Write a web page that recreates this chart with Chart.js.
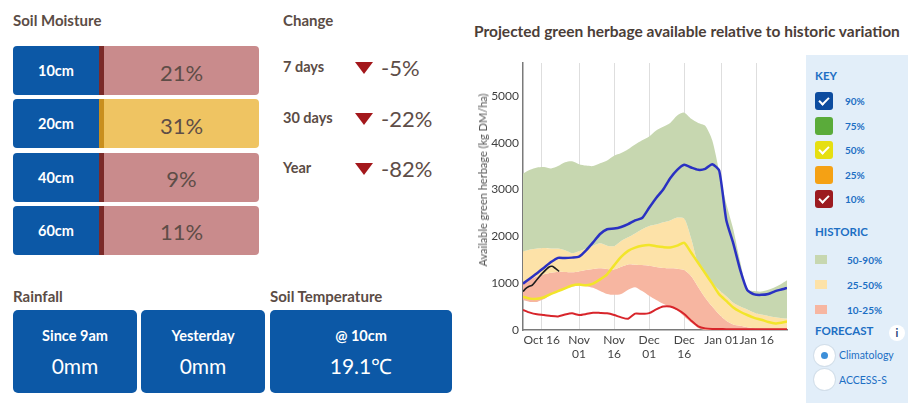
<!DOCTYPE html>
<html lang="en">
<head>
<meta charset="utf-8">
<title>Soil and pasture</title>
<script src="https://cdn.jsdelivr.net/npm/chart.js@4.4.1/dist/chart.umd.min.js"></script>
<style>
  html, body { margin: 0; padding: 0; background: #fff; }
  body { position: relative; width: 908px; height: 403px; overflow: hidden;
         font-family: Lato, "Open Sans", sans-serif; color: #5b4c45; }
  .t { position: absolute; white-space: nowrap; line-height: 20px; }
  .head { font-weight: 700; font-size: 15px; color: #5b4c45; }
  .row { position: absolute; left: 13px; width: 246px; height: 49px; border-radius: 4px;
         overflow: hidden; display: flex; }
  .row .depth { width: 86px; background: #0c58a6; color: #fff; font-weight: 700; font-size: 14.5px;
                display: flex; align-items: center; justify-content: center; }
  .row .edge { width: 5px; }
  .row .pct { flex: 1; display: flex; align-items: center; justify-content: center;
              font-size: 22px; color: #5e4d47; padding-top: 3px; }
  .chg { font-weight: 700; font-size: 14.5px; color: #5b4c45; }
  .tri { position: absolute; width: 0; height: 0; border-left: 9px solid transparent;
         border-right: 9px solid transparent; border-top: 12px solid #a3171b; }
  .chgval { font-size: 22px; color: #5e4d47; }
  .box { position: absolute; top: 310px; height: 83px; background: #0c58a6; border-radius: 5px;
         color: #fff; text-align: center; }
  .box .bt { position: absolute; left: 0; right: 0; top: 16px; font-weight: 700; font-size: 14.5px; line-height: 20px; }
  .box .bv { position: absolute; left: 0; right: 0; top: 43px; font-size: 21px; line-height: 26px; }
  #chartWrap { position: absolute; left: 470px; top: 50px; width: 330px; height: 330px; }
  #yTitle { position: absolute; left: 483px; top: 180px; transform: translate(-50%, -50%) rotate(-90deg);
            white-space: nowrap; font-size: 11px; color: #555; line-height: 14px; }
  #key { position: absolute; left: 806px; top: 55px; width: 102px; height: 348px; background: #e2eef9; }
  .kh { position: absolute; left: 9px; font-weight: 700; font-size: 11.5px; color: #1d6fc4; line-height: 14px; }
  .kl { position: absolute; font-weight: 700; font-size: 10px; color: #1d6fc4; line-height: 12px; }
  .cb { position: absolute; left: 9px; width: 18px; height: 18px; border-radius: 3px; }
  .cb.on::after { content: ''; position: absolute; left: 6px; top: 3px; width: 4px; height: 8px;
                  border-right: 2.5px solid #fff; border-bottom: 2.5px solid #fff; transform: rotate(45deg); }
  .sw { position: absolute; left: 9px; width: 12px; height: 9px; }
  .radio { position: absolute; left: 8px; width: 21px; height: 21px; border-radius: 50%; background: #fff;
           box-shadow: 0 0 0 1px #d3dfea; }
  .radio.on::after { content: ''; position: absolute; left: 7px; top: 7px; width: 7px; height: 7px;
                     border-radius: 50%; background: #3d8fd9; }
  .info { position: absolute; left: 83px; top: 270px; width: 16px; height: 16px; border-radius: 50%;
          background: #fff; color: #1b3f7a; font-weight: 700; font-size: 11px; line-height: 16px; text-align: center; }
</style>
</head>
<body>

<div class="t head" style="left:13px; top:10px;">Soil Moisture</div>
<div class="t head" style="left:283px; top:10px;">Change</div>
<div id="soilRows"></div>
<div id="changeRows"></div>

<div class="t head" style="left:13px; top:286px;">Rainfall</div>
<div class="t head" style="left:270px; top:286px;">Soil Temperature</div>
<div id="boxes"></div>

<div class="t" style="left:474px; top:21px; font-weight:700; font-size:15.5px; color:#4b3e38;">Projected green herbage available relative to historic variation</div>

<div id="chartWrap"><canvas id="herbage" width="330" height="330"></canvas></div>
<div id="yTitle">Available green herbage (kg DM/ha)</div>

<div id="key">
  <div class="kh" style="top:14px;">KEY</div>
  <div id="keyItems"></div>
  <div class="kh" style="top:170px;">HISTORIC</div>
  <div id="histItems"></div>
  <div class="kh" style="top:269px;">FORECAST</div>
  <div class="info">i</div>
  <div class="radio on" style="top:290px;"></div>
  <div class="kl" style="left:33px; top:294px; font-weight:400; font-size:10.5px;">Climatology</div>
  <div class="radio" style="top:314px;"></div>
  <div class="kl" style="left:33px; top:319px; font-weight:400; font-size:10.5px;">ACCESS-S</div>
</div>

<script>
// ---- soil panel ----
const soilDepths = ['10cm', '20cm', '40cm', '60cm'];
const soilPercent = [21, 31, 9, 11];
const soilBand = ['low', 'mid', 'low', 'low'];

const changePeriods = ['7 days', '30 days', 'Year'];
const changePercent = [-5, -22, -82];

const rainLabels = ['Since 9am', 'Yesterday'];
const rainMm = [0, 0];
const soilTempDepth = '@ 10cm';
const soilTempC = 19.1;

// ---- herbage chart ----
// x = days since 1 Oct
const days = [7, 10, 13, 16, 19, 22, 25, 28, 31, 34, 37, 40, 43, 46, 49, 52, 55, 58, 61, 64,
              67, 70, 73, 76, 79, 82, 85, 88, 91, 94, 97, 100, 103, 106, 109, 112, 115, 118, 120];

const hist90 = [3340, 3420, 3470, 3480, 3450, 3500, 3580, 3600, 3540, 3510, 3500, 3560, 3620, 3720, 3780,
                3860, 3960, 4050, 4130, 4260, 4340, 4420, 4580, 4640, 4510, 4420, 4360, 4050, 3380, 2700,
                2150, 1450, 870, 830, 820, 860, 920, 1000, 1060];
const hist50 = [1680, 1720, 1740, 1750, 1740, 1740, 1700, 1640, 1680, 1740, 1800, 1850, 1800, 1790, 1900,
                1980, 2060, 2150, 2220, 2250, 2300, 2340, 2400, 2380, 1950, 1400, 1180, 990, 850, 720,
                580, 500, 440, 370, 330, 300, 270, 250, 245];
const hist25 = [1030, 1080, 1140, 1190, 1220, 1245, 1240, 1232, 1250, 1280, 1300, 1317, 1300, 1290, 1350,
                1400, 1395, 1385, 1370, 1345, 1325, 1317, 1310, 1280, 1150, 920, 690, 500, 330, 200,
                120, 90, 60, 40, 30, 25, 20, 20, 20];
const hist10 = [640, 600, 600, 660, 760, 830, 890, 930, 947, 935, 900, 833, 770, 750, 770,
                860, 915, 830, 730, 640, 560, 490, 420, 290, 160, 45, 0, 0, 0, 0,
                0, 0, 0, 0, 0, 0, 0, 0, 0];

const fc90 = [990, 1100, 1210, 1330, 1450, 1540, 1535, 1545, 1566, 1700, 1870, 2050, 2150, 2165, 2200,
              2260, 2340, 2390, 2610, 2820, 3000, 3240, 3420, 3530, 3470, 3420, 3440, 3540, 3400, 2350,
              1850, 1280, 850, 760, 750, 770, 830, 870, 900];
const fc50 = [710, 670, 665, 700, 770, 830, 890, 950, 970, 955, 990, 1080, 1190, 1380, 1560,
              1690, 1760, 1800, 1815, 1790, 1770, 1760, 1800, 1860, 1650, 1430, 1210, 990, 760, 620,
              480, 390, 320, 260, 220, 170, 140, 160, 180];
const fc10 = [430, 370, 335, 320, 300, 290, 330, 355, 320, 340, 370, 365, 356, 320, 270,
              240, 350, 345, 360, 440, 500, 500, 440, 340, 200, 80, 35, 22, 20, 18,
              18, 18, 18, 18, 18, 18, 18, 18, 18];

const obsDays = [7, 8, 9.5, 11, 13, 15.5, 18, 19.5, 21, 22.5];
const observed = [820, 880, 930, 960, 1080, 1220, 1340, 1360, 1310, 1250];

const yTicks = [0, 1000, 2000, 3000, 4000, 5000];
const tickDays = [15, 31, 46, 61, 76, 92, 107];
const tickLabels = ['Oct 16', ['Nov', '01'], ['Nov', '16'], ['Dec', '01'], ['Dec', '16'], 'Jan 01', 'Jan 16'];

const keyLabels = ['90%', '75%', '50%', '25%', '10%'];
const keyChecked = [true, false, true, false, true];
const histLabels = ['50-90%', '25-50%', '10-25%'];

// ---------------------------------------------------------------
const BAND_FILL = { low: '#c98b8c', mid: '#efc462' };
const BAND_EDGE = { low: '#7b2a28', mid: '#c98f1e' };
const KEY_COLORS = ['#0d4c9f', '#5aab3a', '#e6df12', '#f5a114', '#9c1b20'];
const HIST_COLORS = ['#c7d7b0', '#fde2a8', '#f7b6a1'];

// soil moisture rows
const soilRows = document.getElementById('soilRows');
soilDepths.forEach((d, i) => {
  const row = document.createElement('div');
  row.className = 'row';
  row.style.top = (46 + i * 53.3) + 'px';
  row.innerHTML = '<div class="depth">' + d + '</div>' +
    '<div class="edge" style="background:' + BAND_EDGE[soilBand[i]] + '"></div>' +
    '<div class="pct" style="background:' + BAND_FILL[soilBand[i]] + '">' + soilPercent[i] + '%</div>';
  soilRows.appendChild(row);
});

// change column
const changeRows = document.getElementById('changeRows');
changePeriods.forEach((p, i) => {
  const cy = 68 + i * 50.5;
  changeRows.insertAdjacentHTML('beforeend',
    '<div class="t chg" style="left:283px; top:' + (cy - 11) + 'px;">' + p + '</div>' +
    '<div class="tri" style="left:355px; top:' + (cy - 6) + 'px;"></div>' +
    '<div class="t chgval" style="left:381px; top:' + (cy - 10) + 'px;">' + changePercent[i] + '%</div>');
});

// rainfall + soil temp boxes
const boxes = document.getElementById('boxes');
const boxDefs = [
  { left: 13, width: 124, title: rainLabels[0], value: rainMm[0] + 'mm' },
  { left: 141, width: 124, title: rainLabels[1], value: rainMm[1] + 'mm' },
  { left: 270, width: 182, title: soilTempDepth, value: soilTempC.toFixed(1) + '\u2103' }
];
boxDefs.forEach(b => {
  boxes.insertAdjacentHTML('beforeend',
    '<div class="box" style="left:' + b.left + 'px; width:' + b.width + 'px;">' +
    '<div class="bt">' + b.title + '</div><div class="bv">' + b.value + '</div></div>');
});

// key panel
const keyItems = document.getElementById('keyItems');
keyLabels.forEach((k, i) => {
  const top = 37 + i * 24.5;
  keyItems.insertAdjacentHTML('beforeend',
    '<div class="cb' + (keyChecked[i] ? ' on' : '') + '" style="top:' + top + 'px; background:' + KEY_COLORS[i] + '"></div>' +
    '<div class="kl" style="left:39px; top:' + (top + 3) + 'px;">' + k + '</div>');
});
const histItems = document.getElementById('histItems');
histLabels.forEach((h, i) => {
  const top = 200 + i * 25;
  histItems.insertAdjacentHTML('beforeend',
    '<div class="sw" style="top:' + top + 'px; background:' + HIST_COLORS[i] + '"></div>' +
    '<div class="kl" style="left:41px; top:' + (top - 1) + 'px;">' + h + '</div>');
});

// ---- chart ----
Chart.defaults.font.family = 'Lato, "Open Sans", sans-serif';

const pts = (xs, ys) => xs.map((x, i) => ({ x: x, y: ys[i] }));

function band(label, values, color) {
  return {
    label: label, data: pts(days, values), fill: '+1', backgroundColor: color,
    borderWidth: 0, pointRadius: 0, tension: 0.25, order: 10
  };
}
function line(label, xs, values, color, width) {
  return {
    label: label, data: pts(xs, values), fill: false, borderColor: color,
    borderWidth: width, pointRadius: 0, tension: 0.2, order: 1
  };
}

new Chart(document.getElementById('herbage'), {
  type: 'line',
  data: {
    datasets: [
      band('Historic 90%', hist90, HIST_COLORS[0]),
      band('Historic 50%', hist50, HIST_COLORS[1]),
      band('Historic 25%', hist25, HIST_COLORS[2]),
      { label: 'Historic 10%', data: pts(days, hist10), fill: false, borderWidth: 0, pointRadius: 0, tension: 0.25, order: 10 },
      line('90%', days, fc90, '#2a31c2', 2.5),
      line('50%', days, fc50, '#f2e52a', 2.5),
      line('10%', days, fc10, '#d8252b', 2),
      line('Observed', obsDays, observed, '#1e1e1e', 1.6)
    ]
  },
  options: {
    responsive: false,
    devicePixelRatio: 1,
    animation: false,
    layout: { padding: { left: 0, top: 13, right: 13, bottom: 0 } },
    plugins: { legend: { display: false }, tooltip: { enabled: false } },
    scales: {
      x: {
        type: 'linear', min: 7, max: 120,
        afterBuildTicks: s => { s.ticks = tickDays.map(v => ({ value: v })); },
        afterFit: s => { s.height = 50; },
        ticks: { autoSkip: false, maxRotation: 0, padding: 3, color: '#444',
                 font: { size: 12 }, callback: (v, i) => tickLabels[i] },
        grid: { color: '#dedede', lineWidth: 1, drawTicks: false },
        border: { color: '#7a7a7a', width: 1.5 }
      },
      y: {
        type: 'linear', min: 0, max: 5700,
        afterBuildTicks: s => { s.ticks = yTicks.map(v => ({ value: v })); },
        afterFit: s => { s.width = 53; },
        ticks: { autoSkip: false, padding: 4, color: '#3f3f3f', font: { size: 12 },
                 callback: v => String(v) },
        grid: { color: 'transparent', drawTicks: false },
        border: { color: '#7a7a7a', width: 1.5 }
      }
    }
  }
});
</script>
</body>
</html>
